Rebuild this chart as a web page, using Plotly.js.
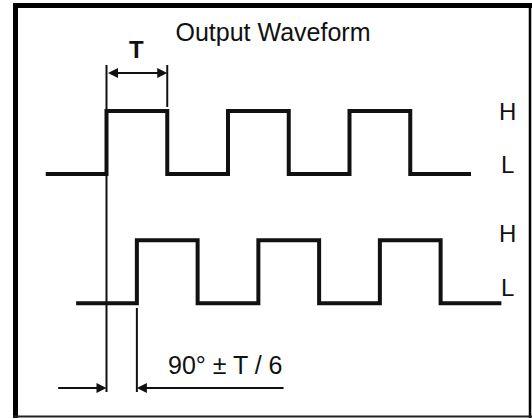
<!DOCTYPE html>
<html>
<head>
<meta charset="utf-8">
<script src="https://cdn.plot.ly/plotly-3.0.1.min.js"></script>
<style>
  html, body { margin: 0; padding: 0; background: #fff; }
  #chart { width: 532px; height: 418px; }
</style>
</head>
<body>
<div id="chart"></div>
<script>
// ---- data (time in periods, levels 0 = L, 1 = H) ----
const edgesA  = [-0.5, 0, 0.5, 1, 1.5, 2, 2.5, 3.0];
const levelsA = [0, 1, 0, 1, 0, 1, 0, 0];
const edgesB  = [-0.25, 0.25, 0.75, 1.25, 1.75, 2.25, 2.75, 3.25];
const levelsB = [0, 1, 0, 1, 0, 1, 0, 0];
const levelLabels = ['L', 'H'];
const titleText = 'Output Waveform';
const periodLabel = 'T';
const phaseLabel = '90° ± T / 6';

// ---- layout helpers ----
const W = 532, H = 418;
const offB = -2.05;                 // vertical offset of channel B
const px = p => p / W;              // paper x from pixel
const py = p => 1 - p / H;          // paper y from pixel
const FONT = 'Liberation Sans, Arial, Helvetica, sans-serif';
const INK = '#111';

const yB = levelsB.map(v => v + offB);

const traces = [
  { x: edgesA, y: levelsA, mode: 'lines', line: { shape: 'hv', color: INK, width: 4 }, hoverinfo: 'skip' },
  { x: edgesB, y: yB, mode: 'lines', line: { shape: 'hv', color: INK, width: 4 }, hoverinfo: 'skip' }
];

const thin = { color: INK, width: 2 };
const shapes = [
  // timing reference lines
  { type: 'line', xref: 'x', yref: 'paper', x0: edgesA[1], x1: edgesA[1], y0: py(392), y1: py(65), line: thin, layer: 'below' },
  { type: 'line', xref: 'x', yref: 'paper', x0: edgesA[2], x1: edgesA[2], y0: py(107), y1: py(65), line: thin, layer: 'below' },
  { type: 'line', xref: 'x', yref: 'paper', x0: edgesB[1], x1: edgesB[1], y0: py(392), y1: py(308), line: thin, layer: 'below' },
  // frame
  { type: 'line', xref: 'paper', yref: 'paper', x0: px(15.5), x1: px(15.5), y0: py(418), y1: py(3), line: { color: '#000', width: 5 } },
  { type: 'line', xref: 'paper', yref: 'paper', x0: px(13), x1: px(532), y0: py(5.5), y1: py(5.5), line: { color: '#000', width: 5 } },
  { type: 'line', xref: 'paper', yref: 'paper', x0: px(530), x1: px(530), y0: py(418), y1: py(3), line: { color: '#000', width: 2.5 } },
  { type: 'line', xref: 'paper', yref: 'paper', x0: px(13), x1: px(532), y0: py(416.5), y1: py(416.5), line: { color: '#222', width: 2 } }
];

const annotations = [
  // T dimension (double arrow between first rise and fall of A)
  { xref: 'x', yref: 'paper', x: edgesA[2], y: py(73), axref: 'x', ayref: 'paper', ax: edgesA[1], ay: py(73),
    text: '', showarrow: true, arrowhead: 2, arrowside: 'end+start', arrowsize: 1, arrowwidth: 2, arrowcolor: INK, standoff: 0, startstandoff: 0 },
  { xref: 'x', yref: 'paper', x: (edgesA[1] + edgesA[2]) / 2, y: py(50), text: '<b>' + periodLabel + '</b>', showarrow: false,
    font: { family: FONT, size: 24, color: INK }, xanchor: 'center', yanchor: 'middle' },
  // phase arrows
  { xref: 'x', yref: 'paper', x: edgesA[1], y: py(388), axref: 'x', ayref: 'paper', ax: edgesA[1] - 0.41, ay: py(388),
    text: '', showarrow: true, arrowhead: 2, arrowsize: 1, arrowwidth: 2, arrowcolor: INK, standoff: 0 },
  { xref: 'x', yref: 'paper', x: edgesB[1], y: py(388), axref: 'x', ayref: 'paper', ax: 1.47, ay: py(388),
    text: '', showarrow: true, arrowhead: 2, arrowsize: 1, arrowwidth: 2, arrowcolor: INK, standoff: 0 },
  { xref: 'x', yref: 'paper', x: 0.98, y: py(365), text: phaseLabel, showarrow: false,
    font: { family: FONT, size: 25, color: INK }, xanchor: 'center', yanchor: 'middle' },
  // level labels
  { xref: 'paper', yref: 'y', x: px(507.5), y: 1, yshift: 0, text: levelLabels[1], showarrow: false,
    font: { family: FONT, size: 24, color: INK }, xanchor: 'center', yanchor: 'middle' },
  { xref: 'paper', yref: 'y', x: px(507.5), y: 0, yshift: 10, text: levelLabels[0], showarrow: false,
    font: { family: FONT, size: 24, color: INK }, xanchor: 'center', yanchor: 'middle' },
  { xref: 'paper', yref: 'y', x: px(507.5), y: 1 + offB, yshift: 7, text: levelLabels[1], showarrow: false,
    font: { family: FONT, size: 24, color: INK }, xanchor: 'center', yanchor: 'middle' },
  { xref: 'paper', yref: 'y', x: px(507.5), y: 0 + offB, yshift: 16, text: levelLabels[0], showarrow: false,
    font: { family: FONT, size: 24, color: INK }, xanchor: 'center', yanchor: 'middle' }
];

const layout = {
  width: W, height: H,
  margin: { l: 0, r: 0, t: 0, b: 0, pad: 0 },
  paper_bgcolor: '#fff', plot_bgcolor: '#fff',
  showlegend: false,
  title: { text: titleText, x: px(273), y: py(32), xref: 'paper', yref: 'paper', xanchor: 'center', yanchor: 'middle',
           font: { family: FONT, size: 25, color: INK } },
  xaxis: { range: [-106.5 / 121.5, (W - 106.5) / 121.5], visible: false, fixedrange: true },
  yaxis: { range: [(174 - H) / 63, 174 / 63], visible: false, fixedrange: true },
  shapes: shapes,
  annotations: annotations
};

Plotly.newPlot('chart', traces, layout, { staticPlot: true, displayModeBar: false });
</script>
</body>
</html>
